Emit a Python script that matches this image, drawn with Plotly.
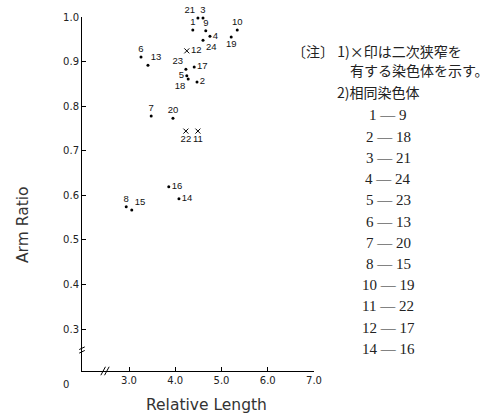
import plotly.graph_objects as go

# ---- data ----
chromosomes = ["1", "2", "3", "4", "5", "6", "7", "8", "9", "10", "11", "12",
               "13", "14", "15", "16", "17", "18", "19", "20", "21", "22", "23", "24"]
relative_length = [4.38, 4.47, 4.60, 4.75, 4.25, 3.26, 3.48, 2.94, 4.66, 5.34, 4.49, 4.25,
                   3.41, 4.08, 3.06, 3.86, 4.41, 4.28, 5.21, 3.95, 4.49, 4.23, 4.23, 4.60]
arm_ratio = [0.971, 0.854, 0.998, 0.957, 0.868, 0.910, 0.778, 0.574, 0.969, 0.971, 0.744, 0.924,
             0.892, 0.592, 0.567, 0.619, 0.888, 0.861, 0.955, 0.773, 0.998, 0.744, 0.883, 0.948]
secondary_constriction = ["11", "22", "12"]

x_tick_vals = [3.0, 4.0, 5.0, 6.0, 7.0]
x_tick_text = ["3.0", "4.0", "5.0", "6.0", "7.0"]
y_tick_vals = [0.3, 0.4, 0.5, 0.6, 0.7, 0.8, 0.9, 1.0]
y_tick_text = ["0.3", "0.4", "0.5", "0.6", "0.7", "0.8", "0.9", "1.0"]

note_lines = ["〔注〕 1)×印は二次狭窄を", "有する染色体を示す。", "2)相同染色体"]
homologous_pairs = ["1 — 9", "2 — 18", "3 — 21", "4 — 24", "5 — 23", "6 — 13",
                    "7 — 20", "8 — 15", "10 — 19", "11 — 22", "12 — 17", "14 — 16"]

x_title = "Relative Length"
y_title = "Arm Ratio"

# ---- styling (label placement per chromosome) ----
label_pos = {
    "1": "top center", "2": "middle right", "3": "top center", "4": "middle right",
    "5": "middle left", "6": "top center", "7": "top center", "8": "top center",
    "9": "top center", "10": "top center", "11": "bottom center", "12": "middle right",
    "13": "top right", "14": "middle right", "15": "top right", "16": "middle right",
    "17": "middle right", "18": "bottom left", "19": "bottom center", "20": "top center",
    "21": "top left", "22": "bottom center", "23": "top left", "24": "bottom right",
}

W, H = 504, 417
L, R, T, B = 82, 314, 17, 371
X_RANGE = [3 - (129 - L) / 46.25, 7.0]
Y_RANGE = [0.3 - (B - 329) / 445.7, 1.0]


def px_x(p):
    return (p - L) / (R - L)


def px_y(p):
    return (B - p) / (B - T)


fig = go.Figure()

dot_idx = [i for i, c in enumerate(chromosomes) if c not in secondary_constriction]
x_idx = [i for i, c in enumerate(chromosomes) if c in secondary_constriction]

label_font = dict(family="Liberation Sans", size=9.5, color="#111")

fig.add_trace(go.Scatter(
    x=[relative_length[i] for i in dot_idx],
    y=[arm_ratio[i] for i in dot_idx],
    text=[chromosomes[i] for i in dot_idx],
    textposition=[label_pos[chromosomes[i]] for i in dot_idx],
    mode="markers+text",
    marker=dict(size=3, color="black"),
    textfont=label_font,
    showlegend=False, cliponaxis=False,
))
fig.add_trace(go.Scatter(
    x=[relative_length[i] for i in x_idx],
    y=[arm_ratio[i] for i in x_idx],
    text=[chromosomes[i] for i in x_idx],
    textposition=[label_pos[chromosomes[i]] for i in x_idx],
    mode="markers+text",
    marker=dict(size=5, color="black", symbol="x-thin", line=dict(width=1, color="black")),
    textfont=label_font,
    showlegend=False, cliponaxis=False,
))

axis_common = dict(showline=True, linecolor="black", linewidth=1, ticks="inside",
                   ticklen=4, tickcolor="black", showgrid=False, zeroline=False,
                   tickfont=dict(family="DejaVu Sans", size=10, color="#222"))
fig.update_xaxes(range=X_RANGE, tickvals=x_tick_vals, ticktext=x_tick_text, **axis_common)
fig.update_yaxes(range=Y_RANGE, tickvals=y_tick_vals, ticktext=y_tick_text, **axis_common)

ann = []
# origin label
ann.append(dict(x=px_x(66), y=px_y(384), xref="paper", yref="paper", text="0",
                xanchor="center", yanchor="middle", showarrow=False,
                font=dict(family="DejaVu Sans", size=10, color="#222")))
# axis titles
ann.append(dict(x=px_x(23), y=px_y(225), xref="paper", yref="paper", text=y_title,
                textangle=-90, xanchor="center", yanchor="middle", showarrow=False,
                font=dict(family="DejaVu Sans", size=15.5, color="#333")))
ann.append(dict(x=px_x(206), y=px_y(405), xref="paper", yref="paper", text=x_title,
                xanchor="center", yanchor="middle", showarrow=False,
                font=dict(family="DejaVu Sans", size=15.5, color="#333")))
# note
note_pos = [(290, 51), (348, 70), (335, 92)]
for txt, (nx, ny) in zip(note_lines, note_pos):
    ann.append(dict(x=px_x(nx), y=px_y(ny), xref="paper", yref="paper", text=txt,
                    xanchor="left", yanchor="middle", showarrow=False,
                    font=dict(family="Noto Sans CJK JP", size=14, color="#222")))
for k, pair in enumerate(homologous_pairs):
    ann.append(dict(x=px_x(388), y=px_y(115.5 + 21.2 * k), xref="paper", yref="paper",
                    text=pair, xanchor="center", yanchor="middle", showarrow=False,
                    font=dict(family="Liberation Serif", size=15, color="#222")))

# axis break marks
shapes = []
bx = 3 - (129 - 105) / 46.25
for dx in (-0.04, 0.04):
    shapes.append(dict(type="line", xref="x", yref="paper",
                       x0=bx + dx - 0.05, x1=bx + dx + 0.05, y0=-0.012, y1=0.012,
                       line=dict(color="black", width=1)))
by = 0.3 - (350 - 329) / 445.7
for dy in (-0.004, 0.004):
    shapes.append(dict(type="line", xref="paper", yref="y",
                       x0=-0.012, x1=0.012, y0=by + dy - 0.003, y1=by + dy + 0.003,
                       line=dict(color="black", width=1)))

fig.update_layout(
    width=W, height=H,
    margin=dict(l=L, r=W - R, t=T, b=H - B),
    plot_bgcolor="white", paper_bgcolor="white",
    annotations=ann, shapes=shapes,
)

fig.write_html("out.html", config={"displayModeBar": False},
               post_script="document.body.style.margin='0';")
